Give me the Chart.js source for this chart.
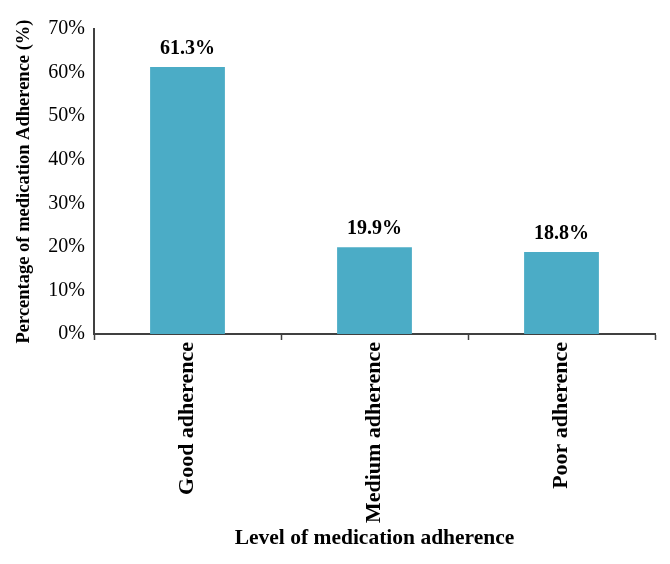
<!DOCTYPE html>
<html>
<head>
<meta charset="utf-8">
<script src="https://cdn.jsdelivr.net/npm/chart.js@4"></script>
<style>
  html, body { margin: 0; padding: 0; background: #ffffff; }
  #wrap { width: 670px; height: 564px; }
</style>
</head>
<body>
<div id="wrap"><canvas id="chartAdherence" width="670" height="564"></canvas></div>
<script>
// Datos del gráfico
const categorias = ['Good adherence', 'Medium adherence', 'Poor adherence'];
const porcentajes = [61.3, 19.9, 18.8];
const ticksY = [0, 10, 20, 30, 40, 50, 60, 70];

const FUENTE = "'Liberation Serif', 'DejaVu Serif', serif";
const COLOR_BARRA = '#4BACC6';

Chart.defaults.font.family = FUENTE;
Chart.defaults.color = '#000000';

// Etiquetas de valor sobre cada barra
const etiquetasBarras = {
    id: 'etiquetasBarras',
    afterDatasetsDraw(chart) {
        const ctx = chart.ctx;
        const meta = chart.getDatasetMeta(0);
        ctx.save();
        ctx.font = 'bold 20px ' + FUENTE;
        ctx.fillStyle = '#000000';
        ctx.textAlign = 'center';
        ctx.textBaseline = 'bottom';
        meta.data.forEach((bar, i) => {
            ctx.fillText(porcentajes[i].toFixed(1) + '%', bar.x, bar.y - 8);
        });
        ctx.restore();
    }
};

new Chart(document.getElementById('chartAdherence'), {
    type: 'bar',
    data: {
        labels: categorias,
        datasets: [{
            data: porcentajes,
            backgroundColor: COLOR_BARRA,
            borderWidth: 0,
            barPercentage: 0.4,
            categoryPercentage: 1.0
        }]
    },
    options: {
        responsive: false,
        animation: false,
        layout: { padding: { top: 29, right: 15, left: 0, bottom: 0 } },
        plugins: {
            legend: { display: false },
            tooltip: { enabled: false }
        },
        scales: {
            x: {
                grid: {
                    display: true,
                    drawOnChartArea: false,
                    drawTicks: true,
                    tickLength: 6,
                    tickColor: '#404040',
                    tickWidth: 1.5
                },
                border: { display: true, color: '#404040', width: 2 },
                ticks: {
                    maxRotation: 90,
                    minRotation: 90,
                    padding: 2,
                    font: { size: 22, weight: 'bold' },
                    color: '#000000'
                },
                title: {
                    display: true,
                    text: 'Level of medication adherence',
                    font: { size: 21.5, weight: 'bold' },
                    padding: { top: 0, bottom: 13 }
                },
                afterFit(scale) { scale.height = 230; }
            },
            y: {
                min: 0,
                max: 70,
                afterBuildTicks(scale) {
                    scale.ticks = ticksY.map(v => ({ value: v }));
                },
                grid: { display: false, drawTicks: false },
                border: { display: true, color: '#404040', width: 2 },
                ticks: {
                    padding: 9,
                    font: { size: 20 },
                    color: '#000000',
                    callback: v => v + '%'
                },
                title: {
                    display: true,
                    text: 'Percentage of medication Adherence (%)',
                    font: { size: 18.5, weight: 'bold' },
                    padding: { top: 13, bottom: 0 }
                },
                afterFit(scale) { scale.width = 94; }
            }
        }
    },
    plugins: [etiquetasBarras]
});
</script>
</body>
</html>
